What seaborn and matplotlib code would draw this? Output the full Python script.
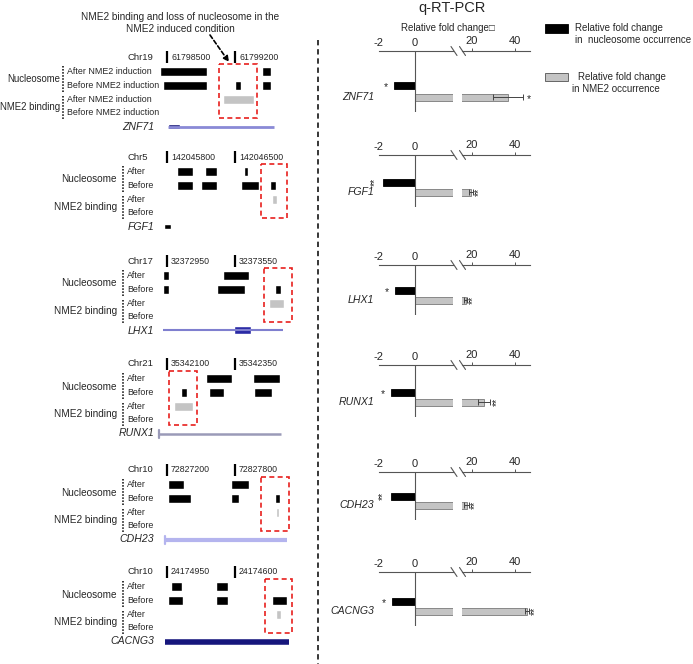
import matplotlib
matplotlib.use("Agg")
import matplotlib.pyplot as plt
import seaborn as sns
import pandas as pd
from matplotlib.patches import Rectangle

sns.set_style("white")
plt.rcParams['font.family'] = ['Liberation Sans', 'DejaVu Sans']

# ---------------- data ----------------
genes = ["ZNF71", "FGF1", "LHX1", "RUNX1", "CDH23", "CACNG3"]
chromosomes = ["Chr19", "Chr5", "Chr17", "Chr21", "Chr10", "Chr10"]
coord_labels = [["61798500", "61799200"], ["142045800", "142046500"],
                ["32372950", "32373550"], ["35342100", "35342350"],
                ["72827200", "72827800"], ["24174950", "24174600"]]
coord_span_bp = [700, 700, 600, 250, 600, 250]

# nucleosome / NME2 peaks: (start, end) in bp from the first labelled position
nuc_after = [[(-70, 415), (975, 1075)],
             [(100, 265), (395, 515), (790, 830)],
             [(-35, 20), (490, 720)],
             [(145, 240), (315, 415)],
             [(10, 150), (565, 725)],
             [(15, 55), (180, 225)]]
nuc_before = [[(-40, 415), (700, 760), (975, 1075)],
              [(100, 265), (355, 515), (760, 945), (1065, 1125)],
              [(-35, 20), (445, 685), (950, 1005)],
              [(50, 75), (155, 210), (320, 385)],
              [(10, 215), (565, 635), (950, 995)],
              [(5, 60), (180, 225), (385, 440)]]
nme2_after = [[(580, 895)], [(1085, 1135)], [(900, 1030)],
              [(25, 95)], [(960, 985)], [(400, 420)]]
highlight = [(540, 925), (965, 1240), (855, 1100), (7, 112), (825, 1075), (360, 460)]
gene_span = [(10, 1105), None, (-35, 1020), (-30, 420), (-18, 1055), (-8, 450)]
gene_exons = [[(10, 130)], [(-30, 40)], [(595, 745)], [], [], []]

fold_categories = ["nucleosome", "NME2"]
nucleosome_fold = [-1.17, -1.78, -1.1, -1.33, -1.33, -1.28]
nme2_fold = [36.7, 19.5, 17.0, 25.6, 17.5, 45.6]
nme2_err = [7.0, 1.0, 0.8, 3.0, 1.0, 0.8]
nucleosome_sig = ["*", "**", "*", "*", "**", "*"]
nme2_sig = ["*", "**", "**", "**", "**", "**"]

# ---------------- layout ----------------
W, H = 693, 664
fig = plt.figure(figsize=(W / 100, H / 100), dpi=100)


def px_axes(x0, y0, x1, y1):
    a = fig.add_axes([x0 / W, 1 - y1 / H, (x1 - x0) / W, (y1 - y0) / H])
    a.patch.set_alpha(0)
    return a


chr_y = [57, 157, 261, 364, 470, 572]
ROW = [14.5, 28.5, 42.5, 55.5, 69.5]
LX0, LX1, T1, T2 = 140, 300, 167, 235

line_styles = [dict(color='#8a8ad6', lw=2.0), None, dict(color='#7f7fcf', lw=1.5),
               dict(color='#9a9ab8', lw=1.8), dict(color='#b4b4ee', lw=3.0),
               dict(color='#16167c', lw=4.0)]
exon_colors = ['#1a1a7a', '#000000', '#2a2aa5', None, None, None]
exon_heights = [5, 5, 8, 0, 0, 0]
start_tick = [False, False, False, True, True, False]

for i, g in enumerate(genes):
    cy = chr_y[i]
    span = coord_span_bp[i]
    ax = px_axes(LX0, cy - 12, LX1, cy + 80)
    ax.set_xlim((LX0 - T1) / (T2 - T1) * span, (LX1 - T1) / (T2 - T1) * span)
    ax.set_ylim(80, -12)
    ax.axis('off')
    for k, pos in enumerate([0, span]):
        ax.plot([pos, pos], [-6, 6], color='k', lw=1.6, solid_capstyle='butt')
        ax.annotate(coord_labels[i][k], xy=(pos, 0), xytext=(4, 0),
                    textcoords='offset pixels', ha='left', va='center', fontsize=6.3)
    ax.broken_barh([(s, e - s) for s, e in nuc_after[i]], (ROW[0] - 4.5, 9), facecolors='black')
    ax.broken_barh([(s, e - s) for s, e in nuc_before[i]], (ROW[1] - 4.5, 9), facecolors='black')
    ax.broken_barh([(s, e - s) for s, e in nme2_after[i]], (ROW[2] - 4.5, 9), facecolors='#c4c4c4')
    hs, he = highlight[i]
    ax.add_patch(Rectangle((hs, 7), he - hs, 54, fill=False, ec='#e8201e', lw=1.2,
                           ls=(0, (3, 2))))
    if gene_span[i] is not None:
        gs, ge = gene_span[i]
        ax.plot([gs, ge], [ROW[4], ROW[4]], solid_capstyle='butt', **line_styles[i])
        if start_tick[i]:
            ax.plot([gs, gs], [ROW[4] - 4, ROW[4] + 4], color=line_styles[i]['color'], lw=1.6)
    if gene_exons[i]:
        hgt = exon_heights[i]
        ax.broken_barh([(s, e - s) for s, e in gene_exons[i]], (ROW[4] - hgt / 2, hgt),
                       facecolors=exon_colors[i])

# ---------------- right: q-RT-PCR bars ----------------
axis_y = [51, 155, 265, 365, 472, 572]
black_y = [85, 182, 290, 392, 496, 601]
gray_y = [97, 192, 300, 402, 505, 611]
RL0, RL1, RR0, RR1 = 379, 453, 462, 530
left_lim = (-2.0, -2.0 + (RL1 - RL0) / 18.0)
right_lim = (20 - (472 - RR0) / 2.15, 20 + (RR1 - 472) / 2.15)


def sig_offset(sig):
    # a lone asterisk sits high in its line box; nudge it down a little
    return (0, -2.5) if len(sig) == 1 else (0, 0)


for i, g in enumerate(genes):
    unit = gray_y[i] - black_y[i]
    bottom_px = gray_y[i] + 15
    top_val = -(black_y[i] - axis_y[i]) / unit
    bot_val = 1 + 15 / unit
    df = pd.DataFrame({"cat": fold_categories,
                       "value": [nucleosome_fold[i], nme2_fold[i]]})
    for side, (x0, x1, lim) in enumerate([(RL0, RL1, left_lim), (RR0, RR1, right_lim)]):
        ax = px_axes(x0, axis_y[i], x1, bottom_px)
        sns.barplot(data=df, x="value", y="cat", hue="cat", order=fold_categories,
                    hue_order=fold_categories, palette=['#000000', '#c4c4c4'],
                    orient='h', width=7 / unit, errorbar=None, legend=False, ax=ax)
        for p, ec in zip(ax.patches, ['#000000', '#7a7a7a']):
            p.set_edgecolor(ec)
            p.set_linewidth(0.6)
        ax.set_xlim(*lim)
        ax.set_ylim(bot_val, top_val)
        ax.set_xlabel("")
        ax.set_ylabel("")
        for s in ['left', 'right', 'bottom']:
            ax.spines[s].set_visible(False)
        ax.spines['top'].set_visible(True)
        ax.spines['top'].set_color('#555555')
        ax.spines['top'].set_linewidth(0.8)
        ax.set_yticks([])
        ax.xaxis.tick_top()
        if side == 0:
            ax.set_xticks([-2, 0])
            ax.set_xticklabels(['-2', '0'])
            ax.tick_params(axis='x', length=0, pad=2, labelsize=8)
            ax.axvline(0, color='#555555', lw=0.8)
            sg = nucleosome_sig[i]
            ax.annotate(sg, xy=(nucleosome_fold[i], 0), xytext=(-8, sig_offset(sg)[1]),
                        textcoords='offset pixels', ha='center', va='center',
                        fontsize=7.5, rotation=90 if len(sg) > 1 else 0)
        else:
            ax.set_xticks([20, 40])
            ax.set_xticklabels(['20', '40'])
            ax.tick_params(axis='x', length=2.5, width=0.7, color='#555555', pad=1,
                           labelsize=8)
            ax.errorbar(nme2_fold[i], 1, xerr=nme2_err[i], fmt='none', ecolor='#444444',
                        elinewidth=0.7, capsize=2, capthick=0.7)
            sg = nme2_sig[i]
            ax.annotate(sg, xy=(nme2_fold[i] + nme2_err[i], 1),
                        xytext=(6, sig_offset(sg)[1]),
                        textcoords='offset pixels', ha='center', va='center', fontsize=7.5,
                        rotation=90 if len(sg) > 1 else 0)

# ---------------- overlay: labels and decorations ----------------
ov = fig.add_axes([0, 0, 1, 1])
ov.patch.set_alpha(0)
ov.set_xlim(0, W)
ov.set_ylim(H, 0)
ov.axis('off')

ov.text(180, 17, "NME2 binding and loss of nucleosome in the", ha='center', va='center', fontsize=7.2)
ov.text(180, 29, "NME2 induced condition", ha='center', va='center', fontsize=7.2)
ov.annotate('', xy=(229, 62), xytext=(210, 35),
            arrowprops=dict(arrowstyle='-|>', linestyle=(0, (2.5, 1.5)), lw=1.2,
                            color='k', mutation_scale=8, shrinkA=0, shrinkB=0))

for i, g in enumerate(genes):
    cy = chr_y[i]
    if i == 0:
        grp_x, sep_x, row_x, gfs = 60, 63, 67, 6.9
        rows = ["After NME2 induction", "Before NME2 induction"] * 2
    else:
        grp_x, sep_x, row_x, gfs = 117, 123, 127, 7.2
        rows = ["After", "Before"] * 2
    ov.text(127, cy, chromosomes[i], ha='left', va='center', fontsize=6.8)
    ov.text(grp_x, cy + 22.5, "Nucleosome", ha='right', va='center', fontsize=gfs)
    ov.text(grp_x, cy + 50, "NME2 binding", ha='right', va='center', fontsize=gfs)
    for k in range(4):
        ov.text(row_x, cy + ROW[k], rows[k], ha='left', va='center', fontsize=6.4)
    ov.plot([sep_x, sep_x], [cy + 9, cy + 35], color='k', lw=1.1, ls=(0, (1, 1)))
    ov.plot([sep_x, sep_x], [cy + 39, cy + 62], color='k', lw=1.1, ls=(0, (1, 1)))
    ov.text(154, cy + ROW[4], g, ha='right', va='center', fontsize=7.6, style='italic')

    ay = axis_y[i]
    ov.plot([451, 457], [ay - 4.5, ay + 4.5], color='#555555', lw=0.8)
    ov.plot([459.5, 465.5], [ay - 4.5, ay + 4.5], color='#555555', lw=0.8)
    ov.text(374, gray_y[i], g, ha='right', va='center', fontsize=7.6, style='italic')

ov.plot([318, 318], [40, 664], color='k', lw=1.1, ls=(0, (3.5, 2.5)))

ov.text(452, 8, "q-RT-PCR", ha='center', va='center', fontsize=10.5)
ov.text(448, 28, "Relative fold change\u25a1", ha='center', va='center', fontsize=7)

ov.add_patch(Rectangle((545, 24), 23, 9, fc='black', ec='black', lw=0.6))
ov.text(575, 28, "Relative fold change", ha='left', va='center', fontsize=7)
ov.text(575, 40, "in  nucleosome occurrence", ha='left', va='center', fontsize=7)
ov.add_patch(Rectangle((545, 73), 23, 8, fc='#c4c4c4', ec='#666666', lw=0.7))
ov.text(578, 77, "Relative fold change", ha='left', va='center', fontsize=7)
ov.text(572, 89, "in NME2 occurrence", ha='left', va='center', fontsize=7)

fig.savefig("out.png", dpi=100)
